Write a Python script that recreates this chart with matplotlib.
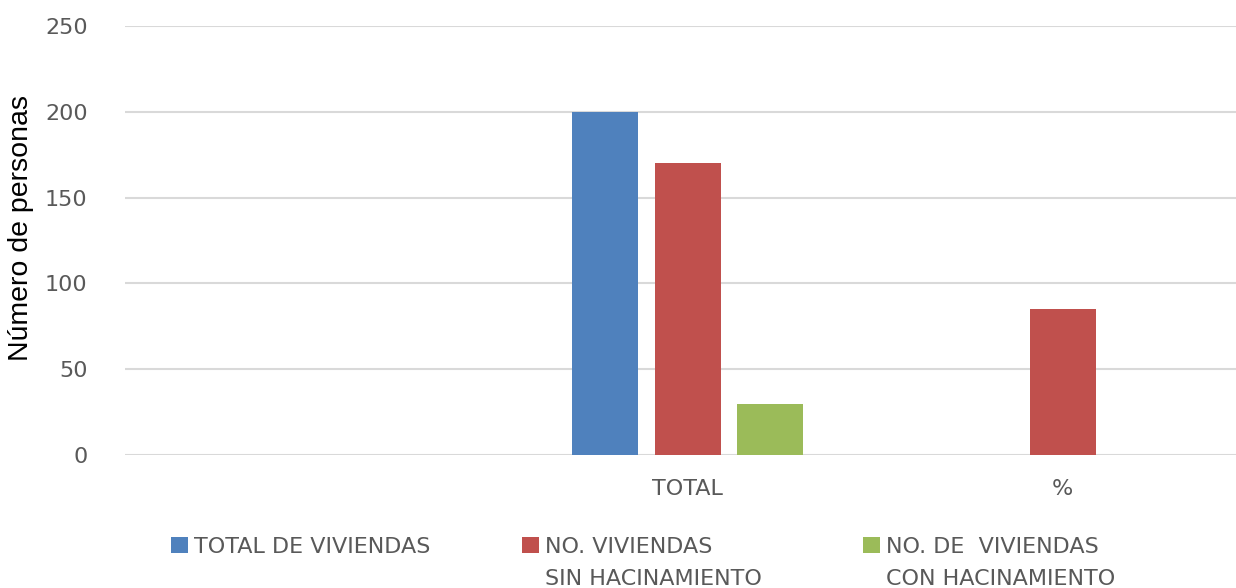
import numpy as np
import matplotlib.pyplot as plt

# Data
categories = ["", "TOTAL", "%"]
total_viviendas = [np.nan, 200, np.nan]
sin_hacinamiento = [np.nan, 170, 85]
con_hacinamiento = [np.nan, 30, np.nan]
series_labels = ["TOTAL DE VIVIENDAS",
                 "NO. VIVIENDAS\nSIN HACINAMIENTO",
                 "NO. DE  VIVIENDAS\nCON HACINAMIENTO"]
colors = ["#4F81BD", "#C0504D", "#9BBB59"]

fig = plt.figure(figsize=(12.36, 5.88), dpi=100)
# axes run a little past the right edge of the image, as in the original
ax = fig.add_axes([125 / 1236, 0.2262, 1125 / 1236, 0.7296])

x = np.arange(len(categories))
width = 0.176
step = 0.221
bars = []
for i, (vals, lab, col) in enumerate(zip([total_viviendas, sin_hacinamiento, con_hacinamiento],
                                         series_labels, colors)):
    bars.append(ax.bar(x + (i - 1) * step, vals, width, color=col, label=lab, zorder=3))

ax.set_xlim(-0.5, 2.5)
ax.set_ylim(0, 250)
ax.set_yticks([0, 50, 100, 150, 200, 250])
ax.set_xticks(x)
ax.set_xticklabels(categories)
ax.grid(axis="y", color="#D9D9D9", linewidth=1.5, zorder=0)
for s in ax.spines.values():
    s.set_visible(False)
ax.tick_params(axis="both", length=0, labelsize=16, labelcolor="#595959")
ax.tick_params(axis="y", pad=27)
ax.tick_params(axis="x", pad=17)
ax.set_ylabel("Número de personas", fontsize=20.5, family="Liberation Sans")
ax.yaxis.set_label_coords(-0.081, 0.53)

# one small legend per series so each sits where it does in the original
legend_x = [171, 522, 863]
for b, lab, lx in zip(bars, series_labels, legend_x):
    leg = fig.legend([b], [lab], loc="upper left", bbox_to_anchor=(lx / 1236, 1 - 537 / 588),
                     frameon=False, fontsize=16, handlelength=0.75, handleheight=0.75,
                     handletextpad=0.3, borderpad=0, borderaxespad=0, labelcolor="#595959")
    for t in leg.get_texts():
        t.set_linespacing(1.75)
    # square aligned with the first text line
    for col in leg._legend_handle_box.get_children():
        for row in col.get_children():
            row.align = "top"

fig.savefig("out.png", dpi=100)
